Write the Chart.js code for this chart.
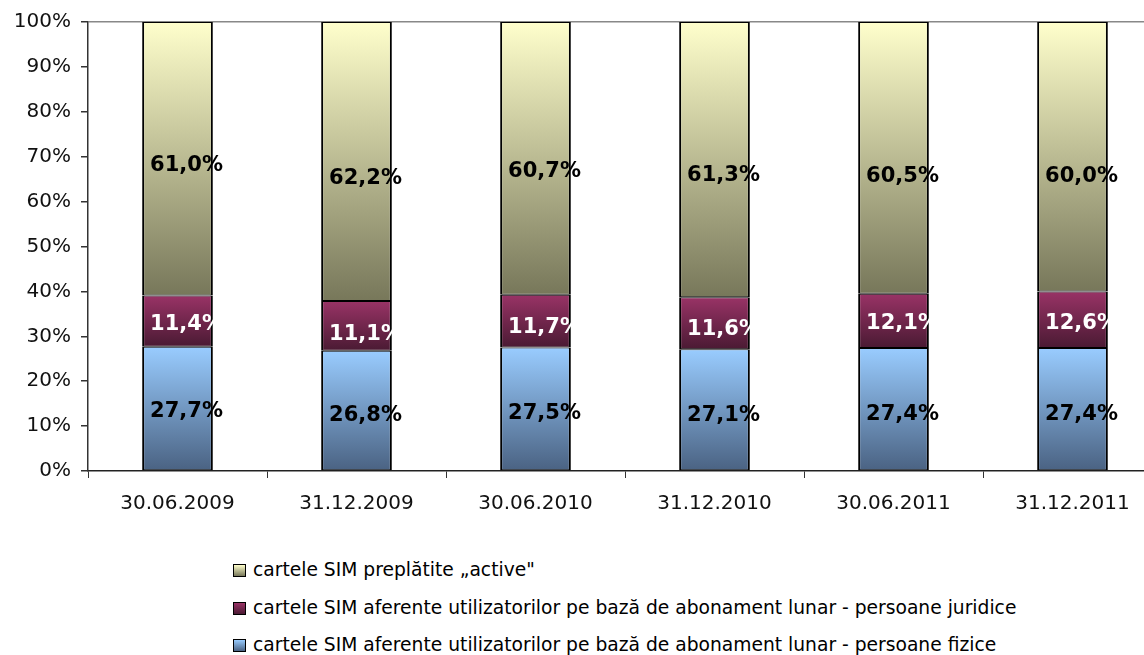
<!DOCTYPE html>
<html>
<head>
    <title>Cartele SIM</title>
    <script src="https://cdn.jsdelivr.net/npm/chart.js"></script>
    <style>
        html, body { margin: 0; padding: 0; background: #fff; overflow: hidden; }
        #wrap { position: relative; width: 1170px; height: 655px; }
        #chartBox { position: absolute; left: 0; top: 0; width: 1170px; height: 541px; }
        #legend { position: absolute; left: 233px; top: 551px; font-family: "DejaVu Sans", Verdana, sans-serif; font-size: 18.7px; color: #000; }
        #legend div { height: 37.5px; line-height: 37.5px; white-space: nowrap; }
        #legend span.box { display: inline-block; width: 11px; height: 11px; border: 1px solid #000; margin-right: 7px; vertical-align: -1px; }
    </style>
</head>
<body>
<div id="wrap">
    <div id="chartBox"><canvas id="simChart"></canvas></div>
    <div id="legend"></div>
</div>
<script>
var dates = ['30.06.2009', '31.12.2009', '30.06.2010', '31.12.2010', '30.06.2011', '31.12.2011'];
var fizice = [27.7, 26.8, 27.5, 27.1, 27.4, 27.4];
var juridice = [11.4, 11.1, 11.7, 11.6, 12.1, 12.6];
var preplatite = [61.0, 62.2, 60.7, 61.3, 60.5, 60.0];
var seriesNames = [
    'cartele SIM aferente utilizatorilor pe bază de abonament lunar - persoane fizice',
    'cartele SIM aferente utilizatorilor pe bază de abonament lunar - persoane juridice',
    'cartele SIM preplătite „active"'
];
var yTicks = [0, 10, 20, 30, 40, 50, 60, 70, 80, 90, 100];

// gradient stops, top -> bottom of each segment
var grads = [
    ['#99ccff', '#4a6282'],
    ['#993366', '#4a1a33'],
    ['#ffffcc', '#77775a']
];
var labelColors = ['#000', '#fff', '#000'];
// the labels in the original were dragged a bit by hand (px, downwards)
var labelNudge = [
    [2, 4, 4, 5, 4, 4],
    [2, 8, 5, 5, 2, 3],
    [6, 16, 12, 15, 18, 19]
];

var raw = [fizice, juridice, preplatite];
// 100% stacked: each column scaled to its own total
var shares = raw.map(function(arr) {
    return arr.map(function(v, i) {
        var tot = fizice[i] + juridice[i] + preplatite[i];
        return v / tot * 100;
    });
});

function segGradient(ds) {
    return function(ctx) {
        var chart = ctx.chart;
        if (!chart.chartArea || ctx.type !== 'data') return grads[ds][0];
        var y = chart.scales.y;
        var start = 0;
        for (var k = 0; k < ds; k++) start += shares[k][ctx.dataIndex];
        var end = start + shares[ds][ctx.dataIndex];
        var g = chart.ctx.createLinearGradient(0, y.getPixelForValue(end), 0, y.getPixelForValue(start));
        g.addColorStop(0, grads[ds][0]);
        g.addColorStop(1, grads[ds][1]);
        return g;
    };
}

var datasets = shares.map(function(arr, ds) {
    return {
        label: seriesNames[ds],
        data: arr,
        backgroundColor: segGradient(ds),
        borderColor: '#000',
        // top/bottom thinner so two touching segments give one ~2px line
        borderWidth: { left: 2, right: 2, top: 1, bottom: 1 },
        borderSkipped: false,
        barPercentage: 0.395,
        categoryPercentage: 1
    };
});

var valueLabels = {
    id: 'valueLabels',
    afterDatasetsDraw: function(chart) {
        var c = chart.ctx;
        c.save();
        c.font = 'bold 21px "DejaVu Sans"';
        c.textAlign = 'center';
        c.textBaseline = 'middle';
        chart.data.datasets.forEach(function(d, ds) {
            chart.getDatasetMeta(ds).data.forEach(function(bar, i) {
                c.fillStyle = labelColors[ds];
                var txt = raw[ds][i].toFixed(1).replace('.', ',') + '%';
                c.fillText(txt, bar.x + 9, (bar.y + bar.base) / 2 + 1 + labelNudge[ds][i]);
            });
        });
        c.restore();
    }
};

new Chart(document.getElementById('simChart'), {
    type: 'bar',
    data: { labels: dates, datasets: datasets },
    options: {
        responsive: true,
        maintainAspectRatio: false,
        animation: false,
        layout: { padding: { top: 20, right: 8, left: 0, bottom: 0 } },
        plugins: { legend: { display: false }, tooltip: { enabled: false } },
        scales: {
            x: {
                stacked: true,
                grid: { offset: true, drawOnChartArea: false, color: '#333', tickLength: 7, lineWidth: 1 },
                border: { color: '#222', width: 1.5 },
                ticks: { color: '#111', font: { family: 'DejaVu Sans', size: 20 }, padding: 14, maxRotation: 0 },
                afterFit: function(s) { s.height = 70; }
            },
            y: {
                stacked: true,
                min: 0,
                max: 100,
                afterBuildTicks: function(s) { s.ticks = yTicks.map(function(v) { return { value: v }; }); },
                grid: {
                    color: function(ctx) { return ctx.tick && ctx.tick.value === 100 ? '#888' : 'rgba(0,0,0,0)'; },
                    tickColor: '#333',
                    tickLength: 7,
                    lineWidth: 1.5
                },
                border: { color: '#333', width: 1.5 },
                ticks: {
                    color: '#111',
                    font: { family: 'DejaVu Sans', size: 20 },
                    padding: 10,
                    callback: function(v) { return v + '%'; }
                },
                afterFit: function(s) { s.width = 88; }
            }
        }
    },
    plugins: [valueLabels]
});

// legend below the chart, top series first
var leg = document.getElementById('legend');
[2, 1, 0].forEach(function(ds) {
    var row = document.createElement('div');
    var box = document.createElement('span');
    box.className = 'box';
    box.style.background = 'linear-gradient(' + grads[ds][0] + ',' + grads[ds][1] + ')';
    row.appendChild(box);
    row.appendChild(document.createTextNode(seriesNames[ds]));
    leg.appendChild(row);
});
</script>
</body>
</html>
